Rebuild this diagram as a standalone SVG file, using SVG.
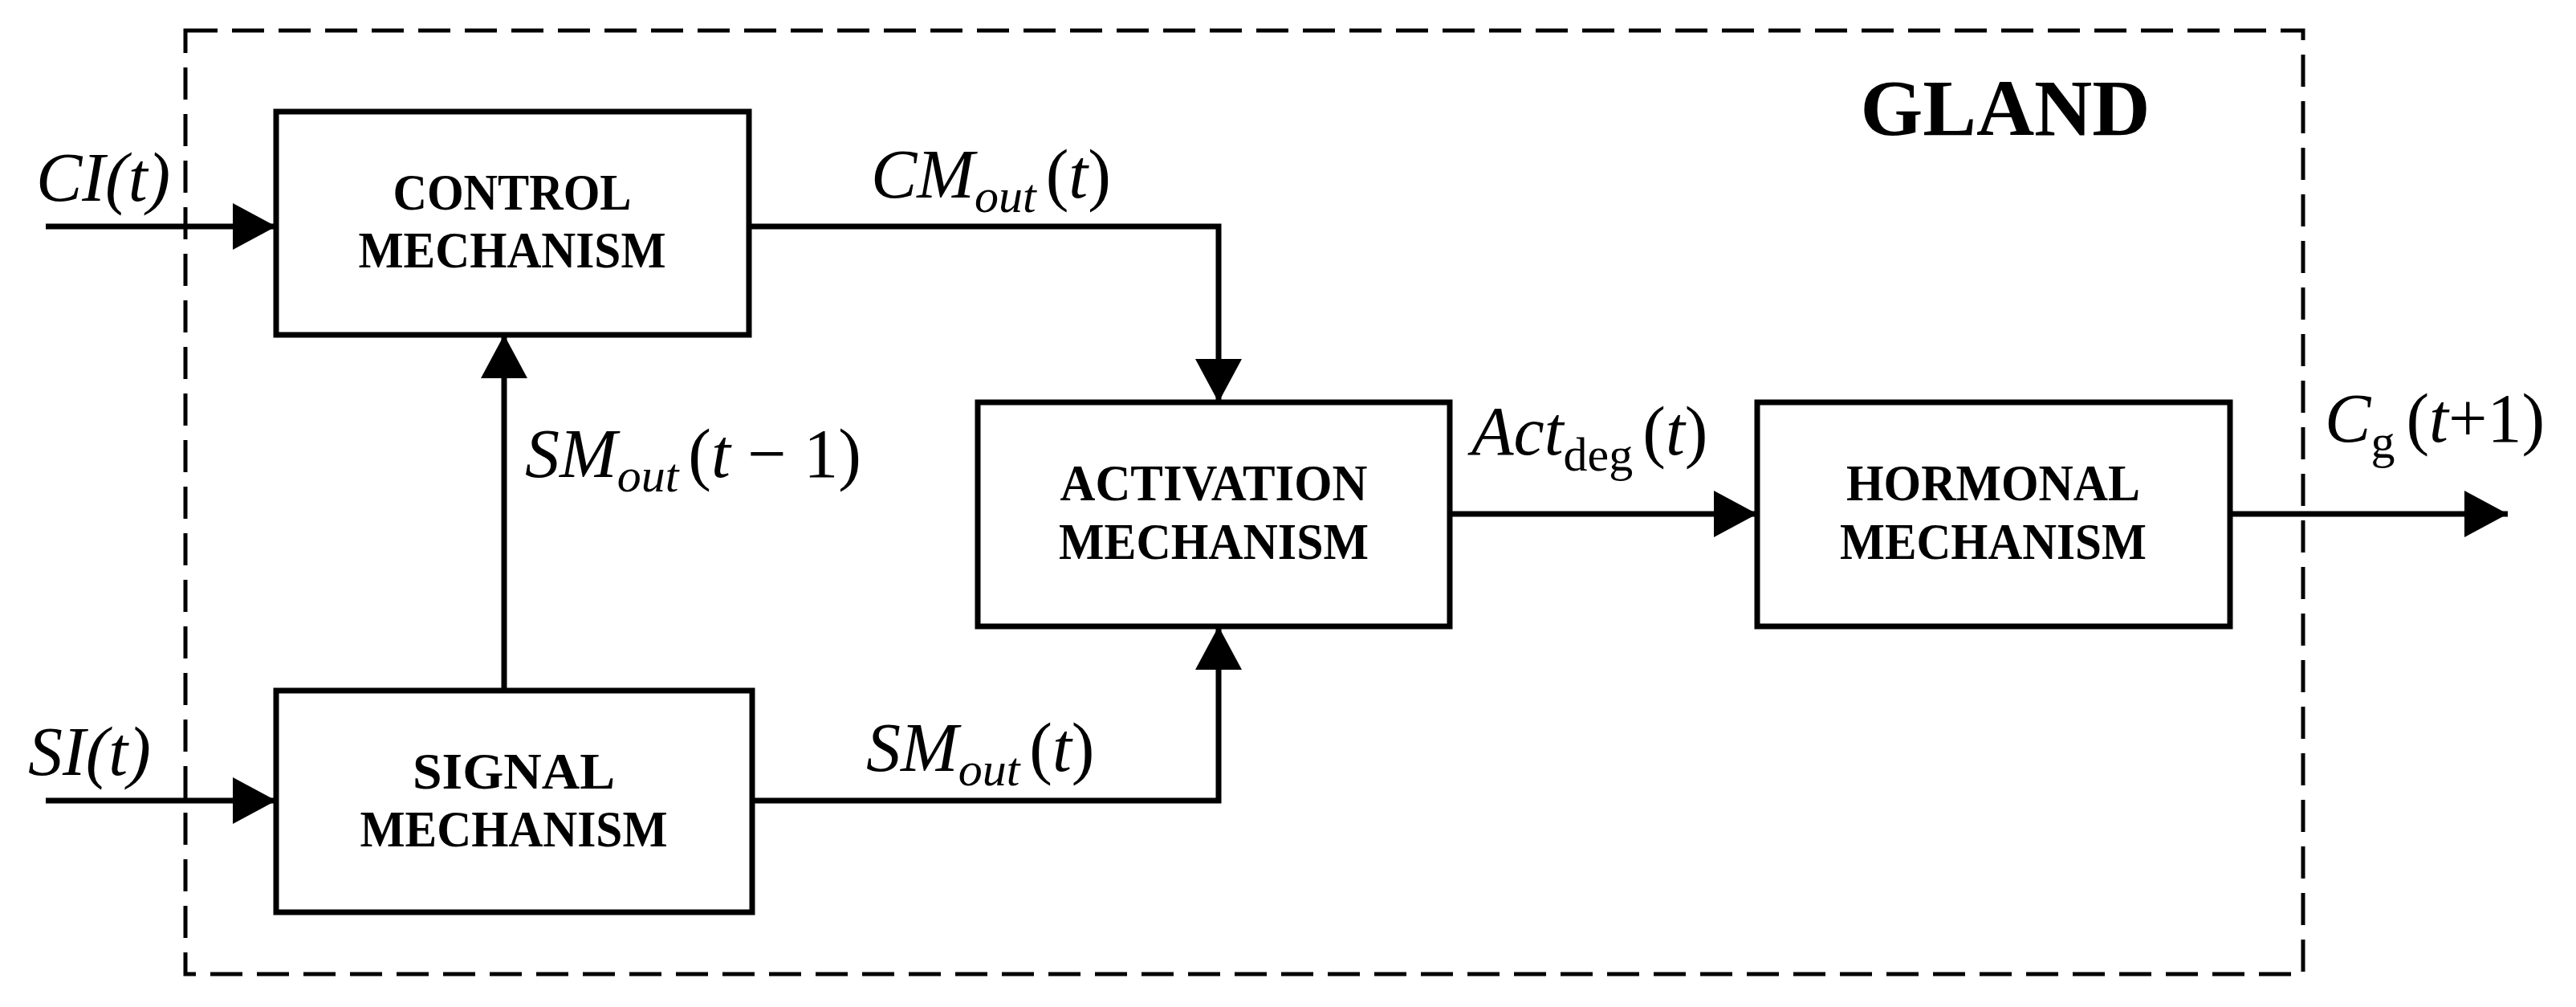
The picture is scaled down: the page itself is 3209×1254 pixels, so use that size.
<svg xmlns="http://www.w3.org/2000/svg" width="3209" height="1254" viewBox="0 0 3209 1254">
<defs>
<marker id="ah" markerUnits="userSpaceOnUse" markerWidth="56" markerHeight="58" refX="54" refY="29" orient="auto" viewBox="0 0 56 58"><path d="M0,0 L54,29 L0,58 Z" fill="#000"/></marker>
</defs>
<style>
.box{fill:#fff;stroke:#000;stroke-width:7}
.bt{font-family:"Liberation Serif",serif;font-weight:bold;font-size:64px;text-anchor:middle}
.lb{font-family:"Liberation Serif",serif;font-style:italic;font-size:86px}
.up{font-style:normal}
.sub{font-size:60px}
.c{fill:none;stroke:#000;stroke-width:7;marker-end:url(#ah)}
</style>
<rect width="3209" height="1254" fill="#fff"/>
<rect id="gland" x="231" y="38" width="2638" height="1175" fill="none" stroke="#000" stroke-width="5" stroke-dasharray="40,18"/>
<text x="2498" y="168" font-family="Liberation Serif,serif" font-weight="bold" font-size="100" text-anchor="middle">GLAND</text>
<g id="connectors">
<path class="c" d="M57,282 H344"/>
<path class="c" d="M57,997 H344"/>
<path class="c" d="M628,860 V417"/>
<path class="c" d="M933,282 H1518 V501"/>
<path class="c" d="M937,997 H1518 V780"/>
<path class="c" d="M1806,640 H2189"/>
<path class="c" d="M2778,640 H3124"/>
</g>
<g id="control"><rect class="box" x="344" y="139" width="589" height="278"/>
<text class="bt" x="638" y="261" textLength="297" lengthAdjust="spacingAndGlyphs">CONTROL</text>
<text class="bt" x="638" y="333" textLength="383" lengthAdjust="spacingAndGlyphs">MECHANISM</text></g>
<g id="signal"><rect class="box" x="344" y="860" width="593" height="276"/>
<text class="bt" x="640" y="982" textLength="252" lengthAdjust="spacingAndGlyphs">SIGNAL</text>
<text class="bt" x="640" y="1054" textLength="383" lengthAdjust="spacingAndGlyphs">MECHANISM</text></g>
<g id="activation"><rect class="box" x="1218" y="501" width="588" height="279"/>
<text class="bt" x="1512" y="623" textLength="383" lengthAdjust="spacingAndGlyphs">ACTIVATION</text>
<text class="bt" x="1512" y="696" textLength="386" lengthAdjust="spacingAndGlyphs">MECHANISM</text></g>
<g id="hormonal"><rect class="box" x="2189" y="501" width="589" height="279"/>
<text class="bt" x="2483" y="623" textLength="366" lengthAdjust="spacingAndGlyphs">HORMONAL</text>
<text class="bt" x="2483" y="696" textLength="382" lengthAdjust="spacingAndGlyphs">MECHANISM</text></g>
<g id="labels">
<text class="lb" x="45" y="250" font-size="76">CI(t)</text>
<text class="lb" x="35" y="965" font-size="76">SI(t)</text>
<text class="lb" x="654" y="594">SM<tspan class="sub" dy="18">out</tspan><tspan class="up" dy="-18" dx="12">(</tspan>t<tspan class="up"> − 1)</tspan></text>
<text class="lb" x="1085" y="246">CM<tspan class="sub" dy="18">out</tspan><tspan class="up" dy="-18" dx="12">(</tspan>t<tspan class="up">)</tspan></text>
<text class="lb" x="1079" y="960">SM<tspan class="sub" dy="18">out</tspan><tspan class="up" dy="-18" dx="12">(</tspan>t<tspan class="up">)</tspan></text>
<text class="lb" x="1833" y="566">Act<tspan class="sub up" dy="20">deg</tspan><tspan class="up" dy="-20" dx="12">(</tspan>t<tspan class="up">)</tspan></text>
<text class="lb" x="2896" y="550">C<tspan class="sub up" dy="20">g</tspan><tspan class="up" dy="-20" dx="14">(</tspan>t<tspan class="up">+1)</tspan></text>
</g>
</svg>
